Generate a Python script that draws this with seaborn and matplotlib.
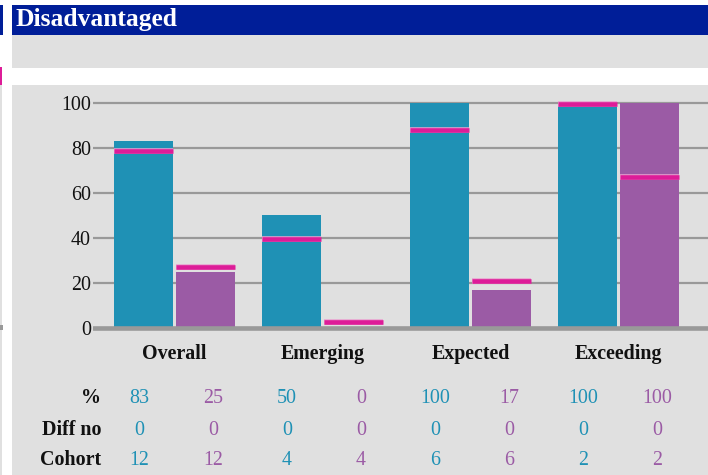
import matplotlib
matplotlib.use("Agg")
import numpy as np
import pandas as pd
import matplotlib.pyplot as plt
import matplotlib.patheffects as pe
from matplotlib.patches import Rectangle
from matplotlib.transforms import blended_transform_factory
import seaborn as sns

# ---------------------------------------------------------------------------
# Data
# ---------------------------------------------------------------------------
categories = ["Overall", "Emerging", "Expected", "Exceeding"]
series_names = ["Group 1", "Group 2"]

group1_pct = [83, 50, 100, 100]
group2_pct = [25, 0, 17, 100]

# magenta comparison markers
group1_marker = [78.5, 39.6, 88, 99.6]
group2_marker = [27, 2.5, 21, 67]

group1_diff = [0, 0, 0, 0]
group2_diff = [0, 0, 0, 0]
group1_cohort = [12, 4, 6, 2]
group2_cohort = [12, 4, 6, 2]

title = "Disadvantaged"
row_labels = ["%", "Diff no", "Cohort"]
y_ticks = [0, 20, 40, 60, 80, 100]

# ---------------------------------------------------------------------------
# Styling
# ---------------------------------------------------------------------------
BLUE = "#1F91B5"
PURPLE = "#9B5BA5"
PINK = "#DD1C98"
PANEL = "#E0E0E0"
GRID = "#999999"
NAVY = "#001E98"

W, H = 708, 475

sns.set_style("white")
plt.rcParams["font.family"] = ["Liberation Serif", "DejaVu Serif"]

fig = plt.figure(figsize=(W / 100, H / 100), dpi=100)
fig.patch.set_facecolor("white")


def px_rect(x0, y0, x1, y1, color):
    """Rectangle in pixel coords (origin top-left), drawn behind the axes."""
    fig.patches.append(Rectangle((x0 / W, 1 - y1 / H), (x1 - x0) / W, (y1 - y0) / H,
                                 transform=fig.transFigure, facecolor=color,
                                 edgecolor="none", zorder=-5))


def fx(x):
    return x / W


def fy(y):
    return 1 - y / H


# panel backgrounds
px_rect(12, 5, W, 35, NAVY)
px_rect(12, 35, W, 68, PANEL)
px_rect(12, 85, W, H, PANEL)
# bits of the neighbouring panel on the far left
px_rect(0, 5, 3, 35, NAVY)
px_rect(0, 67, 2, 85, PINK)
px_rect(0, 85, 2, H, PANEL)
px_rect(0, 325, 3, 330, GRID)

fig.text(fx(16), fy(26), title, color="white", fontsize=18.4,
         fontweight="bold", ha="left", va="baseline")

# ---------------------------------------------------------------------------
# Bar chart
# ---------------------------------------------------------------------------
ymin, ymax = -2, 106
zero_px, unit_px = 328, 2.253
bottom_px = zero_px - ymin * unit_px
top_px = zero_px - ymax * unit_px
left_px, right_px = 93, W
ax = fig.add_axes([fx(left_px), fy(bottom_px), (right_px - left_px) / W,
                   (bottom_px - top_px) / H])
ax.set_zorder(2)
ax.set_facecolor("none")

df = pd.DataFrame({
    "category": categories * 2,
    "series": [series_names[0]] * 4 + [series_names[1]] * 4,
    "pct": group1_pct + group2_pct,
})

sns.barplot(data=df, x="category", y="pct", hue="series",
            palette=[BLUE, PURPLE], saturation=1, width=0.838, gap=0.048,
            errorbar=None, legend=False, linewidth=0, ax=ax, zorder=2)

for container, markers in zip(ax.containers, [group1_marker, group2_marker]):
    for bar, m in zip(container, markers):
        x = bar.get_x()
        ax.plot([x, x + bar.get_width()], [m, m], color=PINK, lw=3.3,
                solid_capstyle="butt", zorder=4,
                path_effects=[pe.Stroke(linewidth=4.0, foreground="#EAA0D0"),
                              pe.Normal()])

group_px = 148
c0_px = 174.5
ax.set_xlim((left_px - c0_px) / group_px, (right_px - c0_px) / group_px)
ax.set_ylim(ymin, ymax)
ax.set_yticks(y_ticks)
ax.set_yticklabels([str(t) for t in y_ticks])
ax.tick_params(axis="y", length=0, pad=1.5, labelsize=14.4, labelcolor="#111111")
ax.tick_params(axis="x", length=0, labelbottom=False)
ax.set_xlabel("")
ax.set_ylabel("")
ax.grid(axis="y", color=GRID, lw=1.6)
ax.grid(axis="x", visible=False)
ax.set_axisbelow(True)
ax.axhline(0, color=GRID, lw=3.3, zorder=5)
for s in ax.spines.values():
    s.set_visible(False)

# category labels under each group
trans = blended_transform_factory(ax.transData, fig.transFigure)
for i, cat in enumerate(categories):
    ax.text(i, fy(359), cat, transform=trans, ha="center", va="baseline",
            fontsize=14.4, fontweight="bold", color="#111111")

# ---------------------------------------------------------------------------
# Table underneath
# ---------------------------------------------------------------------------
rows = [
    (row_labels[0], group1_pct, group2_pct, 403),
    (row_labels[1], group1_diff, group2_diff, 435),
    (row_labels[2], group1_cohort, group2_cohort, 465),
]
col0_px, col_step = 139, 74
for label, vals1, vals2, base in rows:
    fig.text(fx(101), fy(base), label, ha="right", va="baseline",
             fontsize=14.4, fontweight="bold", color="#111111")
    for i in range(len(categories)):
        for j, (v, c) in enumerate([(vals1[i], BLUE), (vals2[i], PURPLE)]):
            fig.text(fx(col0_px + col_step * (2 * i + j)), fy(base), f"{v:g}",
                     ha="center", va="baseline", fontsize=14.4, color=c)

fig.savefig("out.png", dpi=100)
